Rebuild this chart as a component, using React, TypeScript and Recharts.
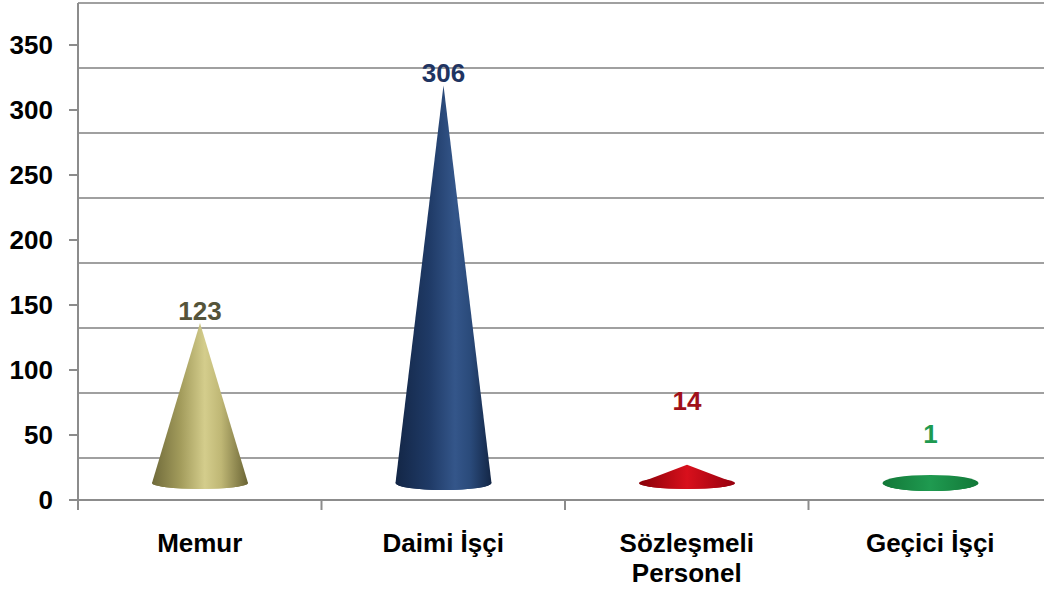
// @ts-nocheck
import { BarChart, Bar, XAxis, YAxis, CartesianGrid, LabelList } from "recharts";

const categories = ["Memur", "Daimi İşçi", "Sözleşmeli Personel", "Geçici İşçi"];
const staffCounts = [123, 306, 14, 1];
const yTicks = [0, 50, 100, 150, 200, 250, 300, 350];
const wallTicks = [50, 100, 150, 200, 250, 300, 350, 400];

const data = categories.map((name, i) => ({ name, value: staffCounts[i] }));

// styling
const FONT = "'Liberation Sans', Arial, sans-serif";
const DEPTH = 17; // cone base sits this far up from the floor line
const baseRy = [6, 7, 6, 8];
const coneStops = [
  [["0", "#6f6a3a"], ["0.3", "#a39c5c"], ["0.55", "#d4cd8c"], ["0.72", "#bfb775"], ["1", "#6a6434"]],
  [["0", "#132646"], ["0.35", "#1f3a66"], ["0.62", "#34568a"], ["0.78", "#2a4a7a"], ["1", "#132646"]],
  [["0", "#880008"], ["0.5", "#d8101c"], ["1", "#96000e"]],
  [["0", "#127838"], ["0.5", "#1f9a50"], ["1", "#127838"]],
];
const labelColors = ["#55543a", "#1f3462", "#a0101a", "#1e9a50"];
const labelLift = [0, 0, 52, 36];

const Cone = (props: any) => {
  const { x, y, width, height, index } = props;
  const id = `cone-${index}`;
  const ry = baseRy[index];
  const cx = x + width / 2;
  const baseY = y + height - DEPTH;
  const tipY = y - DEPTH;
  const r = width / 2;
  const d = `M${cx - r},${baseY} L${cx},${tipY} L${cx + r},${baseY} A${r},${ry} 0 0 1 ${cx - r},${baseY} Z`;
  return (
    <g>
      <defs>
        <linearGradient id={id} x1="0" y1="0" x2="1" y2="0">
          {coneStops[index].map(([o, c]) => (
            <stop key={o} offset={o} stopColor={c} />
          ))}
        </linearGradient>
      </defs>
      <ellipse cx={cx} cy={baseY} rx={r} ry={ry} fill={`url(#${id})`} />
      <path d={d} fill={`url(#${id})`} />
    </g>
  );
};

const ValueLabel = (props: any) => {
  const { x, y, width, value, index } = props;
  return (
    <text
      x={x + width / 2}
      y={y - DEPTH - 3 - labelLift[index]}
      textAnchor="middle"
      fontFamily={FONT}
      fontWeight="bold"
      fontSize={26}
      fill={labelColors[index]}
    >
      {value}
    </text>
  );
};

const CategoryTick = (props: any) => {
  const { x, y, payload } = props;
  const words = payload.value.length > 12 ? payload.value.split(" ") : [payload.value];
  const half = payload.offset || 0;
  return (
    <g>
      <line x1={x - half} x2={x - half} y1={y - 10} y2={y} stroke="#8c8c8c" strokeWidth={2} />
      <text textAnchor="middle" fontFamily={FONT} fontWeight="bold" fontSize={26} fill="#000">
        {words.map((w, i) => (
          <tspan key={w} x={x} y={y + 42 + i * 30}>
            {w}
          </tspan>
        ))}
      </text>
    </g>
  );
};

export default function App() {
  return (
    <div style={{ position: "absolute", left: 0, top: 0, background: "#fff" }}>
      <BarChart
        width={1044}
        height={592}
        data={data}
        margin={{ top: 3, right: -8, left: 0, bottom: 0 }}
      >
        <CartesianGrid
          yAxisId="wall"
          vertical={false}
          stroke="#a0a0a0"
          strokeWidth={2}
        />
        <XAxis
          dataKey="name"
          height={92}
          axisLine={{ stroke: "#8c8c8c", strokeWidth: 2 }}
          tickLine={false}
          tickSize={10}
          tickMargin={0}
          interval={0}
          tick={<CategoryTick />}
        />
        <YAxis
          width={78}
          domain={[0, 382.3]}
          ticks={yTicks}
          allowDataOverflow
          axisLine={{ stroke: "#8c8c8c", strokeWidth: 2 }}
          tickLine={{ stroke: "#8c8c8c", strokeWidth: 2 }}
          tickSize={9}
          tickMargin={16}
          tick={{ fontFamily: FONT, fontWeight: "bold", fontSize: 26, fill: "#000" }}
        />
        <YAxis yAxisId="wall" hide domain={[17.7, 400]} ticks={wallTicks} allowDataOverflow />
        <Bar dataKey="value" barSize={96} shape={<Cone />} isAnimationActive={false}>
          <LabelList dataKey="value" content={<ValueLabel />} />
        </Bar>
      </BarChart>
    </div>
  );
}
